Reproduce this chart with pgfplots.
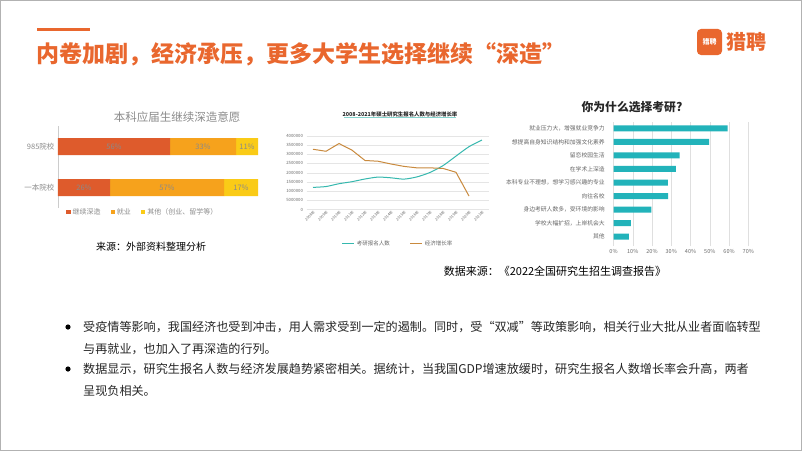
\documentclass[border=0pt]{standalone}
\usepackage{fontspec}
\setmainfont{Noto Sans CJK SC}
\usepackage{pgfplots}
\pgfplotsset{compat=1.18}
\newcommand{\fs}[1]{\fontsize{#1}{#1}\selectfont}

\definecolor{brand}{HTML}{E9672E}
\definecolor{cA}{HTML}{DE5B2C}
\definecolor{cB}{HTML}{F6A21C}
\definecolor{cC}{HTML}{FACB17}
\definecolor{tealL}{HTML}{35B8AE}
\definecolor{brownL}{HTML}{C98A3E}
\definecolor{tealB}{HTML}{22B3BA}
\definecolor{txtgray}{HTML}{8C8C8C}
\definecolor{lblgray}{HTML}{8A8A8A}
\definecolor{bodytxt}{HTML}{262626}

\pgfplotsset{sqlegend/.style={legend image code/.code={\fill[##1] (0pt,-2.2pt) rectangle (4.4pt,2.2pt);}}}

\begin{document}
\begin{tikzpicture}[x=1pt,y=1pt]
\path[use as bounding box] (0,0) rectangle (802,451);
\fill[white] (0,0) rectangle (802,451);
\draw[gray!60,line width=0.8pt] (0.4,0.4) rectangle (801.6,450.6);

% header
\fill[brand] (37,451-31) rectangle (90,451-28);
\node[anchor=west,inner sep=0pt,text=brand,font=\fs{23}\bfseries] at (36,451-54) {内卷加剧，经济承压，更多大学生选择继续“深造”};
\fill[brand,rounded corners=4pt] (697,451-55) rectangle (722,451-29);
\node[text=white,font=\fs{7}\bfseries,inner sep=0pt] at (709.5,451-42) {猎聘};
\node[anchor=west,inner sep=0pt,text=brand,font=\fs{20}\bfseries] at (726,451-42) {猎聘};

% chart 1: stacked bars
\node[text=txtgray,font=\fs{11.5}] at (177,451-117) {本科应届生继续深造意愿};
\begin{axis}[
  at={(58pt,243pt)}, anchor=south west, scale only axis,
  width=200pt, height=82pt,
  xbar stacked, bar width=17pt,
  xmin=0, xmax=100, ymin=-0.5, ymax=1.5,
  axis x line=none, axis y line*=left,
  y axis line style={gray!40},
  ytick={0,1}, yticklabels={一本院校,985院校},
  major tick length=2pt, tick style={gray!40},
  yticklabel style={font=\fs{7.5}, text=txtgray},
  legend style={at={(0.04,-0.05)}, anchor=west, draw=none, fill=none,
    inner sep=0pt, font=\fs{7}, text=txtgray, legend columns=3,
    /tikz/every even column/.append style={column sep=8pt}},
]
\addplot[fill=cA, draw=none, sqlegend] coordinates {(56,1) (26,0)};
\addlegendentry{继续深造}
\addplot[fill=cB, draw=none, sqlegend] coordinates {(33,1) (57,0)};
\addlegendentry{就业}
\addplot[fill=cC, draw=none, sqlegend] coordinates {(11,1) (17,0)};
\addlegendentry{其他（创业、留学等）}
\end{axis}
% value labels centred in each segment (x = 58 + 2*value)
\node[font=\fs{7.5},text=lblgray] at (114,304.5) {56\%};
\node[font=\fs{7.5},text=lblgray] at (203,304.5) {33\%};
\node[font=\fs{7.5},text=lblgray] at (247,304.5) {11\%};
\node[font=\fs{7.5},text=lblgray] at (84,263.5) {26\%};
\node[font=\fs{7.5},text=lblgray] at (167,263.5) {57\%};
\node[font=\fs{7.5},text=lblgray] at (241,263.5) {17\%};
\node[font=\fs{10},text=black] at (151,451-247) {来源：外部资料整理分析};

% chart 2: lines
\node[font=\fs{5.4}\bfseries,text=black!85] at (400,451-114) {2008-2021年硕士研究生报名人数与经济增长率};
\draw[tealL!60,line width=0.5pt] (344,451-117) -- (456,451-117);
\begin{axis}[
  at={(306.5pt,241.5pt)}, anchor=south west, scale only axis,
  width=182pt, height=73.7pt,
  xmin=-0.5, xmax=13.5, ymin=0, ymax=4000000,
  axis line style={draw=none}, tick style={draw=none},
  ymajorgrids, grid style={gray!20, line width=0.3pt},
  ytick={0,500000,1000000,1500000,2000000,2500000,3000000,3500000,4000000},
  yticklabels={0,5000000,1000000,1500000,2000000,2500000,3000000,3500000,4000000},
  scaled y ticks=false,
  yticklabel style={font=\fs{4.3}, text=gray!85!black},
  xtick={0,1,2,3,4,5,6,7,8,9,10,11,12,13},
  xticklabels={2008年,2009年,2010年,2011年,2012年,2013年,2014年,2015年,2016年,2017年,2018年,2019年,2020年,2021年},
  xticklabel style={font=\fs{3.8}, rotate=45, anchor=north east, inner sep=0.5pt, text=gray!85!black},
  legend style={at={(0.193,-0.468)}, anchor=west, draw=none, fill=none,
    inner sep=0pt, font=\fs{5.5}, text=gray!80!black, legend columns=2,
    /tikz/every even column/.append style={column sep=18pt}},
  legend image code/.code={\draw[#1] (0pt,0pt) -- (12pt,0pt);},
]
\addplot[tealL, line width=1pt, smooth, tension=0.4] coordinates {
  (0,1200000) (1,1246000) (2,1400000) (3,1510000) (4,1656000) (5,1760000) (6,1720000)
  (7,1649000) (8,1770000) (9,2010000) (10,2380000) (11,2900000) (12,3410000) (13,3770000)};
\addlegendentry{考研报名人数}
\addplot[brownL, line width=1pt] coordinates {
  (0,3270000) (1,3160000) (2,3580000) (3,3220000) (4,2660000) (5,2620000) (6,2470000)
  (7,2340000) (8,2260000) (9,2260000) (10,2230000) (11,2020000) (12,730000)};
\addlegendentry{经济增长率}
\end{axis}

% chart 3: horizontal bars
\node[font=\fs{11.8}\bfseries,text=black!85] at (632,451-107) {你为什么选择考研?};
\begin{axis}[
  at={(613.5pt,204.8pt)}, anchor=south west, scale only axis,
  width=134.8pt, height=124.7pt,
  xbar, bar width=6pt,
  xmin=0, xmax=70, ymin=-0.7, ymax=8.5,
  axis line style={draw=none}, tick style={draw=none},
  xmajorgrids, grid style={gray!25, line width=0.4pt},
  xtick={0,10,20,30,40,50,60,70},
  xticklabels={0\%,10\%,20\%,30\%,40\%,50\%,60\%,70\%},
  xticklabel style={font=\fs{5.5}, text=gray!85!black},
  ytick={0,1,2,3,4,5,6,7,8},
  yticklabels={其他,{学校大幅扩招，上岸机会大},{身边考研人数多，受环境的影响},向往名校,{本科专业不理想，想学习感兴趣的专业},在学术上深造,留恋校园生活,想提高自身知识结构和加强文化素养,{就业压力大，增强就业竞争力}},
  yticklabel style={font=\fs{5.8}, text=gray!80!black, xshift=-1pt},
]
\addplot[fill=tealB, draw=none] coordinates {
  (8,0) (9,1) (19.6,2) (28.3,3) (28.2,4) (32.4,5) (34.3,6) (49.7,7) (59.3,8)};
\end{axis}
\node[font=\fs{11},text=black] at (555,451-271) {数据来源：《2022全国研究生招生调查报告》};

% bullets
\fill[black] (68,451-327) circle (2.6);
\node[anchor=west,inner sep=0pt,font=\fs{12.1},text=bodytxt] at (83,451-327) {受疫情等影响，我国经济也受到冲击，用人需求受到一定的遏制。同时，受“双减”等政策影响，相关行业大批从业者面临转型};
\node[anchor=west,inner sep=0pt,font=\fs{12.1},text=bodytxt] at (83,451-349) {与再就业，也加入了再深造的行列。};
\fill[black] (68,451-369) circle (2.6);
\node[anchor=west,inner sep=0pt,font=\fs{12.1},text=bodytxt] at (83,451-369) {数据显示，研究生报名人数与经济发展趋势紧密相关。据统计，当我国GDP增速放缓时，研究生报名人数增长率会升高，两者};
\node[anchor=west,inner sep=0pt,font=\fs{12.1},text=bodytxt] at (83,451-391) {呈现负相关。};
\end{tikzpicture}
\end{document}
